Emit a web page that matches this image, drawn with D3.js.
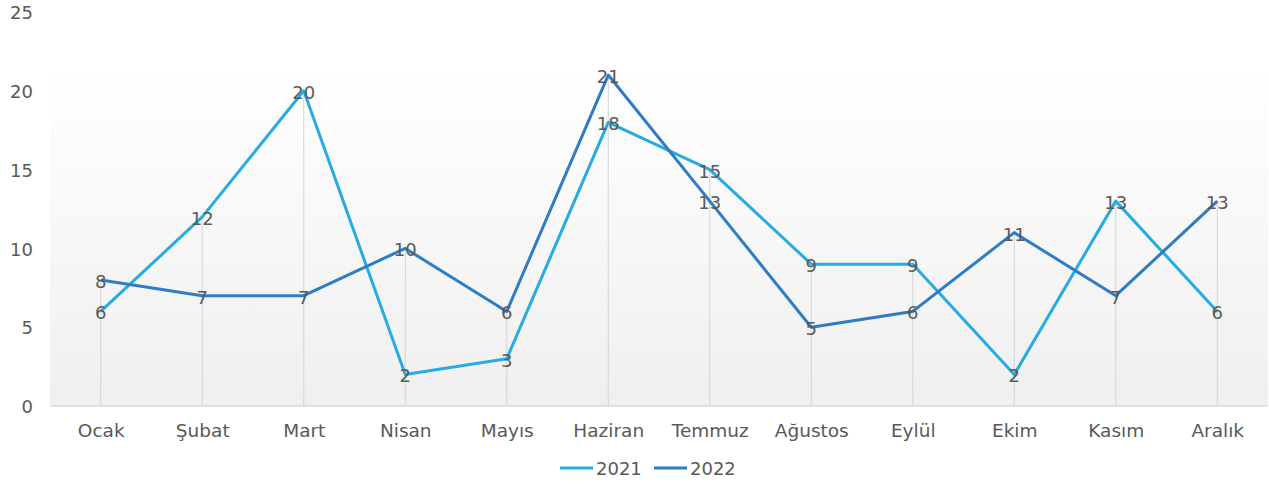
<!DOCTYPE html>
<html><head><meta charset="utf-8">
<script src="https://cdn.jsdelivr.net/npm/d3@7"></script>
<style>html,body{margin:0;padding:0;background:#fff;}svg{display:block;}</style>
</head><body>
<svg id="chart" width="1269" height="484"></svg>
<script>
const months = ["Ocak","Şubat","Mart","Nisan","Mayıs","Haziran","Temmuz","Ağustos","Eylül","Ekim","Kasım","Aralık"];
const values2021 = [6,12,20,2,3,18,15,9,9,2,13,6];
const values2022 = [8,7,7,10,6,21,13,5,6,11,7,13];
const seriesNames = ["2021","2022"];
const seriesColors = ["#27abe2","#2e7cc3"];
const yTicks = [0,5,10,15,20,25];

(function(){
const svg = d3.select("#chart");
const font = "'DejaVu Sans', sans-serif";
const textColor = "#595959";
const mLeft = 50, mRight = 1268, mTop = 12, mBottom = 406;

const x = d3.scalePoint().domain(months).range([mLeft, mRight]).padding(0.5);
const y = d3.scaleLinear().domain([0,25]).range([mBottom, mTop]);

const defs = svg.append("defs");
const grad = defs.append("linearGradient").attr("id","bg").attr("x1",0).attr("y1",0).attr("x2",0).attr("y2",1);
grad.append("stop").attr("offset","0%").attr("stop-color","#ffffff");
grad.append("stop").attr("offset","15%").attr("stop-color","#ffffff");
grad.append("stop").attr("offset","100%").attr("stop-color","#efefef");

svg.append("rect").attr("x",mLeft).attr("y",y(25)).attr("width",mRight-mLeft).attr("height",y(0)-y(25)).attr("fill","url(#bg)");

// drop lines
const maxVals = months.map((m,i)=>Math.max(values2021[i],values2022[i]));
svg.append("g").selectAll("line").data(months).join("line")
  .attr("x1",d=>x(d)).attr("x2",d=>x(d))
  .attr("y1",(d,i)=>y(maxVals[i])).attr("y2",y(0))
  .attr("stroke","#d4d4d4").attr("stroke-width",1);

// baseline
svg.append("line").attr("x1",mLeft).attr("x2",mRight).attr("y1",y(0)).attr("y2",y(0))
  .attr("stroke","#d9d9d9").attr("stroke-width",1.5);

// y axis
const yAxis = d3.axisLeft(y).tickValues(yTicks).tickSize(0).tickPadding(0);
const ya = svg.append("g").attr("transform",`translate(33,1)`).call(yAxis);
ya.select(".domain").remove();
ya.selectAll("text").attr("fill",textColor).style("font-family",font).style("font-size","18px");

// x axis
const xAxis = d3.axisBottom(x).tickSize(0).tickPadding(0);
const xa = svg.append("g").attr("transform",`translate(0,${y(0)+18})`).call(xAxis);
xa.select(".domain").remove();
xa.selectAll("text").attr("fill",textColor).style("font-family",font).style("font-size","18.5px");

const series = [values2021, values2022];
const line = d3.line().x((d,i)=>x(months[i])).y(d=>y(d));
series.forEach((vals,si)=>{
  svg.append("path").datum(vals).attr("d",line).attr("fill","none")
    .attr("stroke",seriesColors[si]).attr("stroke-width",3).attr("stroke-linejoin","round");
});
series.forEach((vals,si)=>{
  svg.append("g").selectAll("text").data(vals).join("text")
    .attr("x",(d,i)=>x(months[i])).attr("y",d=>y(d)+1.5)
    .attr("text-anchor","middle").attr("dominant-baseline","central")
    .attr("fill",textColor).style("font-family",font).style("font-size","18px")
    .text(d=>d);
});

// legend
const lg = svg.append("g").attr("transform","translate(560,468)");
const legendX = [0, 94];
seriesNames.forEach((n,i)=>{
  const g = lg.append("g").attr("transform",`translate(${legendX[i]},0)`);
  g.append("line").attr("x1",0).attr("x2",33).attr("y1",0).attr("y2",0)
    .attr("stroke",seriesColors[i]).attr("stroke-width",3);
  g.append("text").attr("x",36).attr("y",0).attr("dominant-baseline","central")
    .attr("fill",textColor).style("font-family",font).style("font-size","18px").text(n);
});
})();
</script>
</body></html>
